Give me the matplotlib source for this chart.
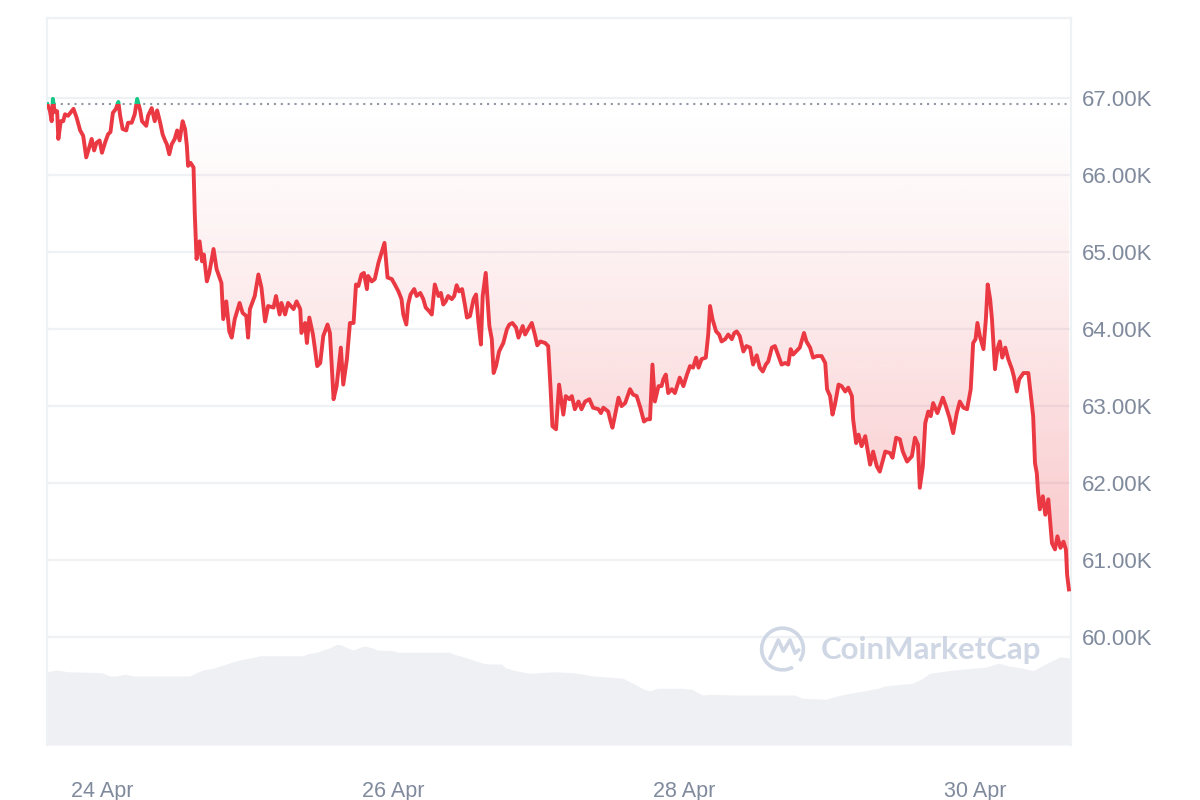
import matplotlib
matplotlib.use("Agg")
import matplotlib.pyplot as plt
import numpy as np
from matplotlib.patches import Polygon, Rectangle, Arc

# hours since 23 Apr 2024 00:00, BTC price in USD (7 day view)
hours = [
    15.0, 15.1, 15.4, 15.7, 15.9, 16.2, 16.6, 16.8, 17.2, 17.6,
    17.9, 18.4, 19.3, 19.8, 20.4, 20.9, 21.4, 21.9, 22.3, 22.7,
    23.1, 23.6, 24.0, 24.5, 25.0, 25.4, 25.8, 26.3, 26.7, 27.0,
    27.4, 28.0, 28.3, 28.9, 29.4, 29.8, 30.3, 30.6, 31.3, 31.6,
    32.2, 32.7, 33.1, 33.6, 34.0, 34.4, 34.7, 35.1, 35.5, 36.0,
    36.4, 36.8, 37.3, 37.7, 38.0, 38.2, 38.6, 39.1, 39.3, 39.6,
    40.1, 40.5, 40.8, 41.3, 41.7, 42.4, 42.9, 43.7, 44.0, 44.5,
    45.0, 45.4, 45.9, 46.7, 47.2, 47.8, 48.1, 48.4, 49.2, 49.8,
    50.3, 50.9, 51.4, 52.3, 52.7, 53.3, 53.6, 54.2, 54.7, 55.6,
    56.1, 56.7, 56.9, 57.5, 57.8, 58.2, 58.8, 59.1, 59.5, 60.0,
    60.5, 61.2, 61.6, 62.2, 62.7, 63.4, 63.8, 64.4, 64.9, 65.5,
    65.9, 66.3, 66.8, 67.2, 67.7, 67.9, 68.5, 69.0, 69.6, 70.1,
    70.6, 71.1, 71.8, 72.3, 72.9, 73.4, 73.7, 74.2, 74.5, 74.9,
    75.5, 75.9, 76.5, 77.0, 77.4, 78.0, 78.4, 78.9, 79.5, 79.9,
    80.3, 80.7, 81.1, 81.7, 82.1, 82.5, 82.9, 83.4, 83.9, 84.2,
    84.7, 85.3, 85.7, 86.1, 86.5, 86.8, 87.3, 87.9, 88.3, 88.6,
    89.0, 89.5, 90.2, 90.8, 91.2, 91.7, 92.3, 92.7, 93.4, 93.8,
    94.3, 94.9, 95.4, 95.8, 96.3, 97.1, 97.6, 98.0, 98.3, 98.9,
    99.4, 100.1, 100.5, 101.1, 101.5, 102.0, 102.6, 103.1, 103.7, 104.4,
    105.0, 105.9, 106.3, 106.7, 107.5, 107.9, 108.2, 108.6, 109.2, 109.7,
    110.3, 111.1, 111.6, 112.2, 112.8, 113.4, 113.9, 114.4, 114.8, 115.2,
    115.8, 116.3, 116.6, 117.0, 117.4, 118.0, 118.5, 119.3, 119.9, 120.5,
    121.0, 121.5, 122.0, 122.4, 122.9, 123.6, 124.0, 124.3, 124.7, 125.3,
    125.8, 126.2, 126.8, 127.3, 127.9, 128.3, 128.7, 129.2, 129.8, 130.3,
    130.9, 131.4, 132.0, 132.5, 133.0, 133.5, 133.9, 134.5, 135.0, 135.6,
    136.1, 136.7, 137.2, 137.6, 138.0, 138.5, 139.1, 139.8, 140.2, 140.8,
    141.3, 141.9, 142.7, 143.3, 143.6, 144.1, 144.5, 144.9, 145.5, 146.0,
    146.6, 147.1, 147.7, 147.9, 148.4, 148.8, 149.3, 149.9, 150.7, 151.2,
    151.8, 152.3, 153.2, 154.0, 154.4, 155.0, 155.6, 156.1, 156.8, 157.6,
    158.1, 158.6, 158.9, 159.4, 159.8, 160.3, 160.7, 161.1, 161.8, 162.7,
    163.2, 163.8, 164.4, 165.0, 165.5, 166.1, 166.7, 167.3, 167.7, 168.1,
    168.4, 168.8, 169.4, 169.8, 170.1, 170.5, 170.8, 171.3, 171.7, 172.1,
    172.5, 173.0, 173.5, 174.1, 174.4, 174.9, 175.3, 176.0, 176.8, 177.2,
    177.6, 177.9, 178.2, 178.4, 178.7, 179.2, 179.6, 180.1, 180.7, 181.2,
    181.6, 182.1, 182.6, 183.0, 183.2, 183.5,
]
prices = [
    66920, 66900, 66840, 66700, 66990, 66820, 66830, 66470, 66700, 66700,
    66790, 66770, 66860, 66750, 66580, 66510, 66230, 66360, 66470, 66320,
    66420, 66450, 66290, 66420, 66530, 66560, 66810, 66860, 66950, 66770,
    66600, 66580, 66680, 66680, 66790, 66990, 66840, 66700, 66640, 66770,
    66870, 66700, 66840, 66680, 66530, 66450, 66400, 66270, 66400, 66470,
    66580, 66450, 66700, 66600, 66380, 66120, 66160, 66100, 65510, 64910,
    65140, 64880, 64970, 64620, 64730, 65040, 64780, 64600, 64130, 64360,
    63970, 63890, 64130, 64340, 64210, 64170, 63890, 64260, 64430, 64710,
    64540, 64100, 64300, 64280, 64430, 64190, 64340, 64190, 64340, 64260,
    64360, 64260, 63950, 64080, 63820, 64150, 63930, 63760, 63520, 63560,
    63910, 64060, 63950, 63090, 63260, 63760, 63280, 63610, 64080, 64080,
    64580, 64560, 64710, 64730, 64520, 64690, 64620, 64650, 64860, 64990,
    65120, 64670, 64650, 64580, 64490, 64390, 64190, 64060, 64320, 64450,
    64520, 64430, 64470, 64390, 64280, 64230, 64190, 64580, 64430, 64470,
    64320, 64360, 64430, 64390, 64430, 64570, 64490, 64520, 64300, 64150,
    64170, 64390, 64450, 64080, 63800, 64430, 64730, 64040, 63870, 63430,
    63520, 63710, 63820, 64000, 64060, 64080, 64020, 63890, 64040, 63930,
    64000, 64080, 63930, 63790, 63840, 63820, 63780, 63220, 62740, 62700,
    63280, 62890, 63130, 63090, 63130, 62960, 63060, 62960, 63060, 63090,
    62980, 62960, 62910, 62980, 62930, 62800, 62720, 62870, 63110, 63000,
    63040, 63220, 63150, 63130, 62980, 62800, 62830, 62830, 63540, 63060,
    63260, 63260, 63350, 63410, 63170, 63220, 63170, 63370, 63260, 63410,
    63520, 63500, 63630, 63500, 63610, 63630, 63930, 64300, 64130, 63970,
    63930, 63840, 63870, 63930, 63870, 63950, 63970, 63910, 63710, 63780,
    63760, 63540, 63660, 63500, 63450, 63540, 63580, 63760, 63780, 63650,
    63540, 63560, 63540, 63740, 63670, 63710, 63760, 63950, 63840, 63760,
    63630, 63650, 63650, 63560, 63220, 63130, 62890, 63020, 63280, 63260,
    63190, 63240, 63130, 62830, 62520, 62630, 62480, 62610, 62240, 62410,
    62220, 62150, 62410, 62390, 62330, 62590, 62570, 62410, 62280, 62350,
    62590, 62500, 61940, 62220, 62780, 62930, 62870, 63040, 62910, 63110,
    63000, 62850, 62650, 62910, 63060, 62980, 62960, 63220, 63820, 63870,
    64080, 63910, 63740, 64130, 64580, 64390, 64130, 63480, 63740, 63840,
    63630, 63760, 63610, 63480, 63390, 63190, 63350, 63430, 63430, 63150,
    62870, 62260, 62130, 61890, 61660, 61830, 61590, 61790, 61220, 61140,
    61310, 61160, 61240, 61140, 60810, 60620,
]
open_price = 66920

# 24h volume (billions USD)
vol_hours = [
    14.9, 16.5, 18.4, 24.0, 25.3, 26.4, 27.8, 29.2, 30.8, 38.5,
    39.6, 40.7, 42.4, 44.0, 45.4, 46.8, 49.0, 50.1, 57.2, 57.8,
    59.4, 60.5, 61.6, 62.7, 63.5, 64.4, 65.5, 66.6, 67.4, 68.8,
    69.3, 72.1, 72.6, 81.4, 81.9, 83.6, 85.2, 86.9, 88.0, 89.9,
    90.5, 91.8, 93.5, 94.6, 98.5, 101.9, 104.8, 109.9, 111.6, 113.3,
    114.4, 115.6, 119.6, 121.3, 123.0, 124.7, 128.1, 138.3, 139.5, 143.5,
    145.2, 147.4, 149.7, 152.0, 153.1, 157.7, 159.4, 160.5, 164.5, 169.6,
    171.9, 173.6, 175.9, 177.6, 179.3, 181.0, 182.1, 183.8,
]
volumes = [
    29.3, 30.0, 29.3, 28.9, 27.6, 27.6, 28.4, 27.6, 27.6, 27.6,
    28.9, 30.0, 30.7, 32.0, 33.1, 34.0, 35.1, 35.7, 35.7, 36.4,
    37.1, 38.0, 38.9, 40.3, 40.0, 38.9, 38.0, 39.1, 39.6, 38.7,
    38.0, 37.7, 37.1, 37.1, 36.4, 35.3, 34.0, 32.7, 32.4, 32.4,
    30.9, 30.0, 29.1, 28.7, 29.3, 28.9, 27.7, 26.7, 24.7, 22.4,
    21.6, 22.7, 22.7, 22.3, 20.0, 20.3, 20.0, 20.0, 18.7, 18.3,
    19.6, 20.7, 21.6, 22.7, 23.6, 24.7, 26.7, 28.7, 30.0, 31.1,
    32.7, 31.6, 30.7, 29.7, 32.0, 34.0, 35.3, 34.7,
]

tick_hours = [24, 72, 120, 168]
tick_labels = ["24 Apr", "26 Apr", "28 Apr", "30 Apr"]
price_ticks = list(range(60000, 67001, 1000))

RED = "#ea3943"
GREEN = "#16c784"
GREY_TXT = "#808a9d"
GRID = "#eff2f5"

t = np.array(hours)
p = np.array(prices, dtype=float)
xmin, xmax = 14.93, 183.84
ymin, ymax = 58600, 68040

fig = plt.figure(figsize=(12, 8), dpi=100)
pos = [47 / 1200, 55 / 800, 1024 / 1200, 727 / 800]

# volume underneath
vax = fig.add_axes(pos, zorder=0)
vax.fill_between(vol_hours, volumes, 0, color="#eef0f4", linewidth=0)
vax.set_xlim(xmin, xmax)
vax.set_ylim(0, 290.8)
vax.axis("off")

ax = fig.add_axes(pos, zorder=1)
ax.patch.set_alpha(0)

# red gradient fill between line and opening price
below = np.minimum(p, open_price)
verts = np.column_stack([np.r_[t, t[::-1]], np.r_[below, np.full(len(t), open_price)]])
clip = Polygon(verts, closed=True, facecolor="none", edgecolor="none",
               transform=ax.transData)
ax.add_patch(clip)
n = 256
frac = np.linspace(1, 0, n)  # bottom row -> strongest
img = np.zeros((n, 1, 4))
img[:, 0, :3] = matplotlib.colors.to_rgb(RED)
img[:, 0, 3] = 0.30 * frac ** 1.2
im = ax.imshow(img, extent=[xmin, xmax, p.min(), open_price], origin="lower",
               aspect="auto", interpolation="bilinear", zorder=1)
im.set_clip_path(clip)

ax.fill_between(t, p, open_price, where=p > open_price, interpolate=True,
                color=GREEN, alpha=0.25, linewidth=0, zorder=1)

# baseline
ax.axhline(open_price, color="#8f96a3", linestyle=(0, (1, 2.3)), lw=1.5, zorder=2)

# price line, green above the open and red below
line_r, = ax.plot(t, p, color=RED, lw=2.8, zorder=3, solid_joinstyle="round")
line_g, = ax.plot(t, p, color=GREEN, lw=2.8, zorder=3, solid_joinstyle="round")
line_r.set_clip_path(Rectangle((xmin, ymin), xmax - xmin, open_price - ymin,
                               transform=ax.transData))
line_g.set_clip_path(Rectangle((xmin, open_price), xmax - xmin, ymax - open_price,
                               transform=ax.transData))

ax.set_xlim(xmin, xmax)
ax.set_ylim(ymin, ymax)

ax.set_yticks(price_ticks)
ax.set_yticklabels([f"{v / 1000:.2f}K" for v in price_ticks])
ax.yaxis.tick_right()
ax.set_xticks(tick_hours)
ax.set_xticklabels(tick_labels)
ax.tick_params(axis="y", length=0, pad=8, labelsize=16, labelcolor=GREY_TXT)
ax.tick_params(axis="x", length=0, pad=26, labelsize=15.5, labelcolor=GREY_TXT)
for lab in ax.get_xticklabels() + ax.get_yticklabels():
    lab.set_fontfamily("Liberation Sans")

ax.grid(axis="y", color=GRID, lw=1.6, zorder=0)
ax.set_axisbelow(True)
for side in ["left", "top", "right"]:
    ax.spines[side].set_color(GRID)
    ax.spines[side].set_linewidth(1.6)
ax.spines["bottom"].set_visible(False)

# watermark
WM = "#cfd6e4"
fig.text(821 / 1200, (800 - 650) / 800, "CoinMarketCap", fontsize=22.5,
         color=WM, family="Lato", weight="bold", va="center", ha="left", zorder=5)
lax = fig.add_axes([758.5 / 1200, 127 / 800, 48 / 1200, 48 / 800], zorder=5)
lax.set_xlim(-1.15, 1.15)
lax.set_ylim(-1.15, 1.15)
lax.axis("off")
lax.add_patch(Arc((0, 0), 2, 2, theta1=-35, theta2=300, color=WM, lw=2.6))
lax.plot([-0.6, -0.2, 0.04, 0.36, 0.6, 0.78], [-0.45, 0.43, -0.1, 0.43, -0.2, -0.05],
         color=WM, lw=2.6, solid_joinstyle="round", solid_capstyle="round")

fig.savefig("out.png", dpi=100)
